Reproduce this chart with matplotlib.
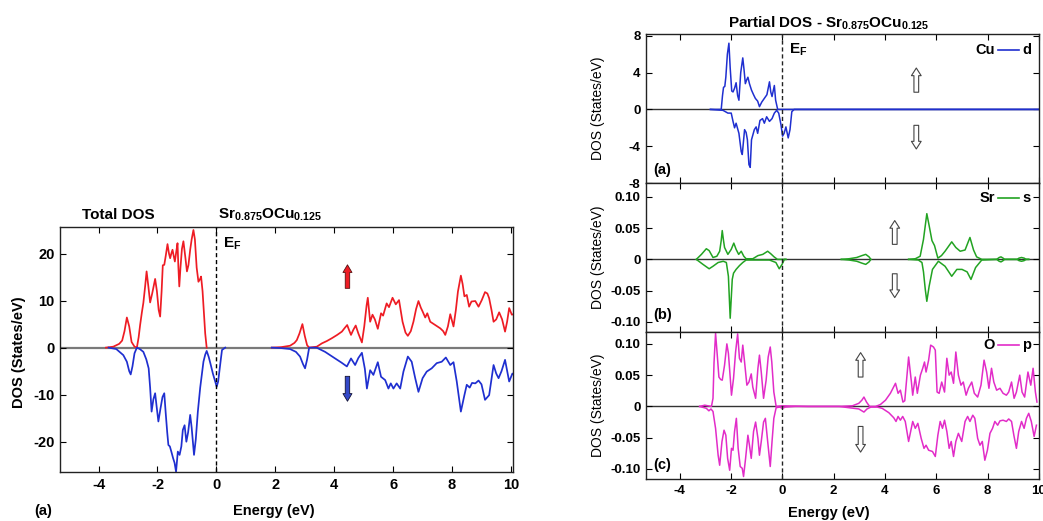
import numpy as np
import matplotlib
matplotlib.use("Agg")
import matplotlib.pyplot as plt

plt.rcParams['font.family'] = ['Liberation Sans', 'DejaVu Sans']
plt.rcParams['font.weight'] = 'bold'
plt.rcParams['axes.unicode_minus'] = False
plt.rcParams['mathtext.fontset'] = 'custom'
plt.rcParams['mathtext.rm'] = 'Liberation Sans:bold'
plt.rcParams['mathtext.bf'] = 'Liberation Sans:bold'
plt.rcParams['mathtext.it'] = 'Liberation Sans:bold'
nan = np.nan

# ---------------- Total DOS (left) ----------------
tot_up_x1 = [-3.75, -3.5, -3.3, -3.2, -3.12, -3.04, -2.96, -2.88, -2.78, -2.7, -2.64, -2.59, -2.53, -2.48,
             -2.42, -2.37, -2.31, -2.25, -2.18, -2.08, -2.02, -1.96, -1.91, -1.86, -1.82, -1.77, -1.72,
             -1.66, -1.61, -1.57, -1.53, -1.49, -1.45, -1.41, -1.36, -1.32, -1.29, -1.26, -1.22, -1.17,
             -1.12, -1.06, -1.0, -0.95, -0.89, -0.84, -0.78, -0.73, -0.67, -0.61, -0.56, -0.52, -0.47,
             -0.42, -0.38, -0.33]
tot_up_y1 = [0, 0.2, 0.8, 1.5, 3.5, 6.4, 4.5, 1.2, 0.2, 0.0, 2.2, 4.8, 7.5, 9.5, 13.0, 16.2, 13.0, 9.6,
             11.5, 14.6, 12.0, 8.0, 6.6, 12.0, 17.5, 17.6, 19.5, 22.0, 20.0, 19.0, 20.0, 20.8, 19.5, 18.3,
             20.5, 22.2, 17.0, 13.0, 17.0, 21.0, 22.6, 19.5, 16.2, 17.5, 20.8, 23.0, 25.0, 23.0, 17.0,
             14.0, 14.5, 15.1, 12.0, 7.0, 3.0, 0.0]
tot_up_x2 = [1.88, 2.2, 2.5, 2.65, 2.73, 2.82, 2.92, 3.0, 3.08, 3.15, 3.41, 3.58, 3.75, 3.92, 4.1, 4.26,
             4.36, 4.44, 4.5, 4.57, 4.65, 4.73, 4.82, 4.94, 5.02, 5.1, 5.14, 5.22, 5.3, 5.38, 5.48, 5.59,
             5.66, 5.78, 5.86, 5.98, 6.09, 6.2, 6.32, 6.42, 6.5, 6.6, 6.69, 6.78, 6.86, 6.94, 7.0, 7.09,
             7.16, 7.26, 7.43, 7.6, 7.7, 7.77, 7.86, 7.94, 8.05, 8.13, 8.2, 8.3, 8.36, 8.42, 8.5, 8.58,
             8.66, 8.79, 8.9, 9.01, 9.12, 9.2, 9.26, 9.34, 9.41, 9.5, 9.6, 9.7, 9.8, 9.87, 9.94, 10.03, 10.14]
tot_up_y2 = [0, 0.1, 0.4, 1.0, 1.6, 3.0, 5.0, 2.5, 0.5, 0, 0.2, 0.9, 1.4, 2.0, 2.7, 3.4, 4.2, 4.8, 3.8,
             2.7, 3.8, 4.7, 3.0, 1.1, 4.5, 9.0, 10.6, 5.5, 7.0, 6.0, 4.0, 7.3, 6.8, 9.4, 8.6, 10.6, 9.2,
             10.1, 5.5, 3.2, 2.5, 3.5, 5.5, 8.2, 9.9, 8.5, 7.7, 6.4, 7.3, 5.5, 4.8, 4.1, 3.5, 2.7, 4.5,
             7.1, 4.5, 8.0, 11.9, 15.3, 13.5, 10.9, 11.2, 8.7, 9.8, 9.9, 8.7, 10.1, 11.8, 11.5, 10.5, 8.0,
             5.5, 6.0, 7.5, 6.0, 3.4, 5.5, 8.4, 7.0, 7.2]
tot_dn_x1 = [-3.66, -3.4, -3.16, -3.04, -2.96, -2.91, -2.85, -2.78, -2.7, -2.6, -2.48, -2.38, -2.3, -2.25,
             -2.2, -2.14, -2.08, -2.03, -1.97, -1.9, -1.83, -1.77, -1.72, -1.67, -1.63, -1.58, -1.53,
             -1.47, -1.42, -1.37, -1.31, -1.25, -1.19, -1.14, -1.08, -1.02, -0.96, -0.89, -0.84, -0.76,
             -0.7, -0.63, -0.55, -0.47, -0.44, -0.38, -0.33, -0.26, -0.19, -0.12, -0.05, 0.01, 0.06, 0.1,
             0.15, 0.19, 0.3]
tot_dn_y1 = [0, -0.3, -1.6, -3.0, -5.0, -5.7, -4.0, -1.2, 0, -0.3, -0.9, -2.5, -4.4, -8.5, -13.6, -11.0,
             -9.7, -12.5, -15.7, -13.0, -10.5, -9.7, -14.0, -18.0, -20.7, -21.0, -22.1, -23.5, -24.5,
             -26.4, -22.1, -22.8, -21.0, -17.5, -16.5, -20.0, -18.0, -14.3, -17.0, -22.8, -19.5, -13.6,
             -8.5, -4.5, -3.0, -1.5, -0.7, -2.0, -3.7, -5.5, -7.0, -8.3, -7.2, -5.1, -2.5, -0.5, 0]
tot_dn_x2 = [1.88, 2.2, 2.5, 2.7, 2.84, 2.94, 3.01, 3.08, 3.15, 3.4, 3.69, 4.03, 4.25, 4.43, 4.57, 4.71,
             4.82, 4.94, 5.04, 5.11, 5.22, 5.33, 5.48, 5.59, 5.73, 5.84, 5.92, 6.01, 6.12, 6.24, 6.35,
             6.5, 6.63, 6.75, 6.86, 7.0, 7.14, 7.31, 7.48, 7.65, 7.79, 7.94, 8.05, 8.16, 8.3, 8.42, 8.5,
             8.6, 8.68, 8.79, 8.9, 9.0, 9.12, 9.26, 9.41, 9.5, 9.58, 9.68, 9.8, 9.94, 10.05, 10.14]
tot_dn_y2 = [0, -0.1, -0.3, -0.9, -1.9, -3.5, -4.4, -2.5, 0, 0, -0.9, -2.3, -3.2, -4.0, -2.3, -3.7, -2.2,
             -1.1, -4.5, -8.7, -4.8, -5.8, -3.1, -6.2, -6.9, -8.7, -7.6, -8.7, -7.6, -8.7, -5.1, -1.9,
             -3.0, -6.5, -9.4, -6.5, -5.1, -4.4, -3.3, -3.0, -2.1, -3.7, -3.1, -7.2, -13.6, -10.1, -7.9,
             -8.5, -7.5, -7.6, -7.0, -7.8, -11.1, -10.1, -3.7, -5.5, -6.5, -5.0, -2.6, -7.2, -5.5, -6.0]
tot_xticks = [-4, -2, 0, 2, 4, 6, 8, 10]
tot_yticks = [-20, -10, 0, 10, 20]

# ---------------- Partial DOS (right) ----------------
cu_up_x = [-2.8, -2.38, -2.33, -2.29, -2.24, -2.2, -2.14, -2.08, -2.03, -1.97, -1.92, -1.86, -1.8, -1.74,
           -1.69, -1.62, -1.54, -1.49, -1.44, -1.39, -1.34, -1.28, -1.2, -1.12, -1.05, -0.96, -0.89,
           -0.8, -0.7, -0.6, -0.5, -0.45, -0.4, -0.31, -0.26, -0.18, 10.0]
cu_up_y = [0, 0, 1.5, 2.4, 2.5, 3.5, 6.0, 7.2, 4.5, 2.0, 1.9, 2.3, 2.9, 1.5, 1.0, 4.0, 5.6, 4.3, 2.8,
           3.2, 3.5, 2.8, 2.1, 1.6, 1.2, 0.9, 0.3, 0.8, 1.2, 1.6, 3.0, 1.9, 1.4, 2.6, 1.0, 0.0, 0.0]
cu_dn_x = [-2.8, -2.31, -2.12, -1.99, -1.92, -1.86, -1.8, -1.69, -1.6, -1.56, -1.47, -1.41, -1.36, -1.3,
           -1.25, -1.2, -1.09, -1.02, -0.96, -0.87, -0.77, -0.7, -0.61, -0.5, -0.4, -0.31, -0.22, -0.14,
           -0.05, 0.01, 0.07, 0.14, 0.23, 0.3, 0.37, 0.46, 10.0]
cu_dn_y = [0, -0.1, -0.4, -0.4, -1.3, -2.0, -1.5, -2.6, -4.6, -4.9, -2.2, -2.5, -3.3, -6.0, -6.3, -3.3,
           -2.2, -1.9, -2.6, -1.2, -1.0, -1.5, -0.8, -1.3, -1.0, -0.4, -0.1, -0.4, -1.7, -2.9, -2.6,
           -1.9, -3.1, -2.2, -0.25, 0, 0]
sr_up_x = [-3.35, -3.15, -2.96, -2.85, -2.7, -2.55, -2.44, -2.38, -2.34, -2.29, -2.25, -2.12, -1.99,
           -1.89, -1.8, -1.7, -1.6, -1.5, -1.41, -1.15, -0.95, -0.76, -0.57, -0.45, -0.32, -0.19, 0.14, nan,
           2.3, 2.6, 2.9, 3.1, 3.25, 3.38, 3.45, nan,
           4.92, 5.18, 5.37, 5.5, 5.63, 5.72, 5.83, 5.93, 6.06, 6.2, 6.34, 6.6, 6.76, 6.93, 7.12, 7.31,
           7.45, 7.57, 7.77, 8.35, 8.45, 8.52, 8.6, 8.66, 9.15, 9.22, 9.32, 9.42, 9.5, 9.6]
sr_up_y = [0, 0.008, 0.017, 0.014, 0.003, 0.005, 0.013, 0.03, 0.046, 0.03, 0.019, 0.008, 0.016, 0.026,
           0.016, 0.008, 0.013, 0.005, 0.001, 0.001, 0.006, 0.008, 0.013, 0.009, 0.004, 0, 0, nan,
           0, 0.001, 0.003, 0.006, 0.008, 0.004, 0, nan,
           0, 0.001, 0.005, 0.032, 0.073, 0.054, 0.03, 0.022, 0.002, 0.006, 0.013, 0.028, 0.019, 0.013,
           0.015, 0.035, 0.015, 0.004, 0, 0, 0.003, 0.004, 0.002, 0, 0, 0.002, 0.003, 0.002, 0, 0]
sr_dn_x = [-3.35, -3.09, -2.85, -2.7, -2.5, -2.3, -2.18, -2.1, -2.03, -1.95, -1.9, -1.8, -1.67, -1.54,
           -1.41, -0.5, -0.25, -0.12, -0.01, 0.08, 0.14, nan,
           2.3, 2.6, 2.9, 3.1, 3.25, 3.38, 3.45, nan,
           4.92, 5.3, 5.44, 5.5, 5.57, 5.63, 5.72, 5.85, 6.08, 6.34, 6.6, 6.8, 7.0, 7.2, 7.35, 7.53, 7.77,
           8.35, 8.45, 8.52, 8.6, 8.66, 9.15, 9.22, 9.32, 9.42, 9.5, 9.6]
sr_dn_y = [0, -0.008, -0.015, -0.011, -0.005, -0.003, -0.005, -0.027, -0.094, -0.032, -0.022, -0.016,
           -0.01, -0.005, -0.001, -0.001, -0.005, -0.015, -0.008, 0, 0, nan,
           0, -0.001, -0.003, -0.006, -0.008, -0.004, 0, nan,
           0, -0.001, -0.005, -0.02, -0.048, -0.067, -0.043, -0.016, -0.003, -0.011, -0.027, -0.016,
           -0.016, -0.02, -0.032, -0.013, -0.001, 0, -0.003, -0.004, -0.002, 0, 0, -0.002, -0.003,
           -0.002, 0, 0]
o_up_x = [-3.22, -3.02, -2.9, -2.76, -2.7, -2.66, -2.6, -2.53, -2.47, -2.4, -2.34, -2.25, -2.16, -2.1,
          -2.05, -1.98, -1.9, -1.82, -1.74, -1.67, -1.6, -1.54, -1.47, -1.38, -1.3, -1.21, -1.15, -1.04,
          -0.95, -0.89, -0.82, -0.73, -0.63, -0.55, -0.47, -0.41, -0.33, -0.24, 0.0, 1.0, 2.21, 2.73,
          2.98, 3.1, 3.18, 3.28, 3.4, 3.63, 3.82, 4.02, 4.21, 4.41, 4.51, 4.6, 4.7, 4.77, 4.92, 5.03,
          5.08, 5.18, 5.26, 5.38, 5.47, 5.54, 5.6, 5.7, 5.78, 5.89, 5.96, 6.03, 6.11, 6.21, 6.32, 6.41,
          6.5, 6.58, 6.67, 6.76, 6.86, 6.96, 7.05, 7.16, 7.25, 7.38, 7.48, 7.61, 7.74, 7.86, 7.96, 8.05,
          8.15, 8.24, 8.35, 8.48, 8.6, 8.73, 8.82, 8.93, 9.03, 9.12, 9.25, 9.34, 9.44, 9.57, 9.68, 9.77,
          9.86, 9.92]
o_up_y = [0, 0.002, 0.001, 0, 0.013, 0.07, 0.117, 0.08, 0.047, 0.043, 0.042, 0.066, 0.1, 0.085, 0.058,
          0.018, 0.045, 0.087, 0.116, 0.077, 0.071, 0.098, 0.071, 0.034, 0.039, 0.052, 0.031, 0.013,
          0.061, 0.082, 0.055, 0.013, 0.042, 0.079, 0.095, 0.071, 0.023, 0.0, 0.001, 0.0, 0.0, 0.001,
          0.005, 0.01, 0.015, 0.007, 0, 0, 0.003, 0.01, 0.021, 0.037, 0.021, 0.026, 0.007, 0.009, 0.079,
          0.039, 0.018, 0.047, 0.021, 0.05, 0.061, 0.071, 0.055, 0.074, 0.098, 0.095, 0.09, 0.023, 0.021,
          0.039, 0.023, 0.077, 0.05, 0.055, 0.037, 0.087, 0.05, 0.034, 0.039, 0.018, 0.029, 0.039, 0.021,
          0.015, 0.034, 0.074, 0.055, 0.029, 0.061, 0.039, 0.026, 0.029, 0.021, 0.018, 0.023, 0.039,
          0.013, 0.023, 0.05, 0.023, 0.015, 0.055, 0.034, 0.061, 0.023, 0.007]
o_dn_x = [-3.22, -2.96, -2.86, -2.78, -2.7, -2.6, -2.5, -2.44, -2.35, -2.27, -2.2, -2.13, -2.05, -1.98,
          -1.92, -1.86, -1.79, -1.72, -1.64, -1.56, -1.51, -1.43, -1.34, -1.28, -1.21, -1.12, -1.04,
          -0.95, -0.89, -0.82, -0.73, -0.66, -0.57, -0.47, -0.4, -0.33, -0.24, -0.1, 0.0, 0.12, 0.5,
          2.21, 2.98, 3.18, 3.3, 3.45, 3.7, 3.89, 4.15, 4.34, 4.43, 4.51, 4.6, 4.69, 4.79, 4.92, 5.0,
          5.08, 5.18, 5.28, 5.41, 5.52, 5.6, 5.7, 5.85, 5.96, 6.06, 6.15, 6.24, 6.32, 6.41, 6.5, 6.58,
          6.67, 6.76, 6.86, 6.99, 7.12, 7.22, 7.31, 7.42, 7.5, 7.61, 7.7, 7.79, 7.89, 7.99, 8.09, 8.19,
          8.28, 8.39, 8.48, 8.6, 8.73, 8.82, 8.93, 9.02, 9.12, 9.21, 9.32, 9.42, 9.51, 9.6, 9.7, 9.81, 9.9]
o_dn_y = [0, -0.003, -0.007, -0.004, -0.008, -0.035, -0.078, -0.094, -0.056, -0.038, -0.046, -0.083,
          -0.102, -0.067, -0.07, -0.04, -0.019, -0.067, -0.096, -0.099, -0.112, -0.083, -0.046, -0.062,
          -0.083, -0.04, -0.025, -0.051, -0.078, -0.056, -0.025, -0.019, -0.056, -0.096, -0.056, -0.019,
          -0.002, -0.001, -0.003, -0.001, 0, 0, -0.004, -0.009, -0.004, -0.001, -0.001, -0.003, -0.01,
          -0.018, -0.024, -0.016, -0.022, -0.016, -0.024, -0.056, -0.04, -0.024, -0.035, -0.027, -0.051,
          -0.067, -0.062, -0.07, -0.072, -0.08, -0.046, -0.024, -0.035, -0.022, -0.04, -0.067, -0.056,
          -0.08, -0.056, -0.043, -0.056, -0.024, -0.016, -0.024, -0.014, -0.019, -0.051, -0.062, -0.056,
          -0.086, -0.07, -0.043, -0.035, -0.024, -0.03, -0.023, -0.022, -0.024, -0.02, -0.024, -0.046,
          -0.067, -0.04, -0.024, -0.035, -0.019, -0.011, -0.024, -0.048, -0.03]
pd_xticks = [-4, -2, 0, 2, 4, 6, 8, 10]
cu_yticks = [-8, -4, 0, 4, 8]
sr_yticks = [-0.10, -0.05, 0, 0.05, 0.10]
o_yticks = [-0.10, -0.05, 0, 0.05, 0.10]

RED = '#ee1c24'
BLUE = '#1f2fd0'
GREEN = '#22a322'
MAG = '#e22cc8'

W, H = 1043, 521
fig = plt.figure(figsize=(W / 100, H / 100), dpi=100)


def fbox(x0, y0, x1, y1):
    return [x0 / W, (H - y1) / H, (x1 - x0) / W, (y1 - y0) / H]


def style(ax, fs=9):
    ax.tick_params(direction='in', length=4, width=0.8, top=True, right=True, labelsize=fs, pad=4)
    for s in ax.spines.values():
        s.set_linewidth(1.0)
        s.set_color('#222222')


# ---- Left panel ----
axL = fig.add_axes(fbox(60, 226.7, 513, 472.3))
axL.axhline(0, color='#7a7a7a', lw=1.6, zorder=1)
axL.plot(tot_up_x1, tot_up_y1, color=RED, lw=1.25, zorder=2)
axL.plot(tot_up_x2, tot_up_y2, color=RED, lw=1.25, zorder=2)
axL.plot(tot_dn_x1, tot_dn_y1, color=BLUE, lw=1.25, zorder=2)
axL.plot(tot_dn_x2, tot_dn_y2, color=BLUE, lw=1.25, zorder=2)
axL.axvline(0, color='k', lw=1.0, ls=(0, (3, 2)), zorder=3)
axL.set_xlim(-5.31, 10.07)
axL.set_ylim(-26.5, 25.7)
axL.set_xticks(tot_xticks)
axL.set_yticks(tot_yticks)
style(axL, 10.5)
axL.text(0.22, 22.0, r'$\mathbf{E_F}$', fontsize=11, ha='left', va='center')
solid = 'simple,head_length=0.55,head_width=0.65,tail_width=0.32'
axL.annotate('', xy=(4.45, 17.6), xytext=(4.45, 12.6),
             arrowprops=dict(arrowstyle=solid, fc=RED, ec='#551111', lw=0.6, shrinkA=0, shrinkB=0))
axL.annotate('', xy=(4.45, -11.4), xytext=(4.45, -6.1),
             arrowprops=dict(arrowstyle=solid, fc='#3348c8', ec='#111133', lw=0.6, shrinkA=0, shrinkB=0))
fig.text(118.5 / W, (H - 215) / H, 'Total DOS', fontsize=11, ha='center', va='center')
fig.text(218 / W, (H - 215) / H, r'Sr$_{\mathbf{0.875}}$OCu$_{\mathbf{0.125}}$', fontsize=11,
         ha='left', va='center')
fig.text(19 / W, (H - 352) / H, 'DOS (States/eV)', fontsize=10.5, rotation=90, ha='center', va='center')
fig.text(274 / W, (H - 511) / H, 'Energy (eV)', fontsize=10.5, ha='center', va='center')
fig.text(34 / W, (H - 511) / H, '(a)', fontsize=10.5, ha='left', va='center')

# ---- Right panels ----
hollow = 'simple,head_length=0.55,head_width=0.7,tail_width=0.34'
panels = [
    (34, 183, cu_up_x, cu_up_y, cu_dn_x, cu_dn_y, BLUE, (-8, 8.2), cu_yticks, ['-8', '-4', '0', '4', '8'],
     'Cu', 'd', '(a)', 0.087, 0.893, (5.22, 1.87, 4.5, -1.73, -4.3)),
    (183, 332, sr_up_x, sr_up_y, sr_dn_x, sr_dn_y, GREEN, (-0.116, 0.122), sr_yticks,
     ['-0.10', '-0.05', '0', '0.05', '0.10'], 'Sr', 's', '(b)', 0.114, 0.897,
     (4.38, 0.024, 0.062, -0.023, -0.061)),
    (332, 479, o_up_x, o_up_y, o_dn_x, o_dn_y, MAG, (-0.116, 0.119), o_yticks,
     ['-0.10', '-0.05', '0', '0.05', '0.10'], 'O', 'p', '(c)', 0.095, 0.91,
     (3.05, 0.047, 0.086, -0.032, -0.073)),
]
axes_r = []
for (y0, y1, ux, uy, dx, dy, col, ylim, yt, ytl, el, orb, lab, laby, legy, arr) in panels:
    ax = fig.add_axes(fbox(646, y0, 1039, y1))
    axes_r.append(ax)
    ax.axhline(0, color='#333333', lw=1.0, zorder=1)
    ax.plot(ux, uy, color=col, lw=1.1, zorder=2)
    ax.plot(dx, dy, color=col, lw=1.1, zorder=2)
    ax.axvline(0, color='#222222', lw=1.0, ls=(0, (3, 2)), zorder=3)
    ax.set_xlim(-5.31, 9.92)
    ax.set_ylim(*ylim)
    ax.set_xticks(pd_xticks)
    ax.set_yticks(yt)
    ax.set_yticklabels(ytl)
    style(ax, 9.5)
    ax.set_ylabel('DOS (States/eV)', fontsize=10)
    ax.yaxis.set_label_coords(-0.105, 0.5)
    ax.text(0.018, laby, lab, transform=ax.transAxes, fontsize=10.5, ha='left', va='center')
    ax.text(0.888, legy, el, transform=ax.transAxes, fontsize=10.5, ha='right', va='center')
    ax.plot([0.895, 0.95], [legy, legy], transform=ax.transAxes, color=col, lw=1.2)
    ax.text(0.957, legy, orb, transform=ax.transAxes, fontsize=10.5, ha='left', va='center')
    ax_x, u0, u1, d0, d1 = arr
    ax.annotate('', xy=(ax_x, u1), xytext=(ax_x, u0),
                arrowprops=dict(arrowstyle=hollow, fc='white', ec='#444444', lw=0.8, shrinkA=0, shrinkB=0))
    ax.annotate('', xy=(ax_x, d1), xytext=(ax_x, d0),
                arrowprops=dict(arrowstyle=hollow, fc='white', ec='#444444', lw=0.8, shrinkA=0, shrinkB=0))

for ax in axes_r[:2]:
    ax.tick_params(labelbottom=False)
axes_r[0].text(0.27, 6.5, r'$\mathbf{E_F}$', fontsize=11, ha='left', va='center')
fig.text(829 / W, (H - 23) / H, r'Partial DOS - Sr$_{\mathbf{0.875}}$OCu$_{\mathbf{0.125}}$', fontsize=11,
         ha='center', va='center')
fig.text(829 / W, (H - 513) / H, 'Energy (eV)', fontsize=10.5, ha='center', va='center')

fig.savefig('out.png', dpi=100)
